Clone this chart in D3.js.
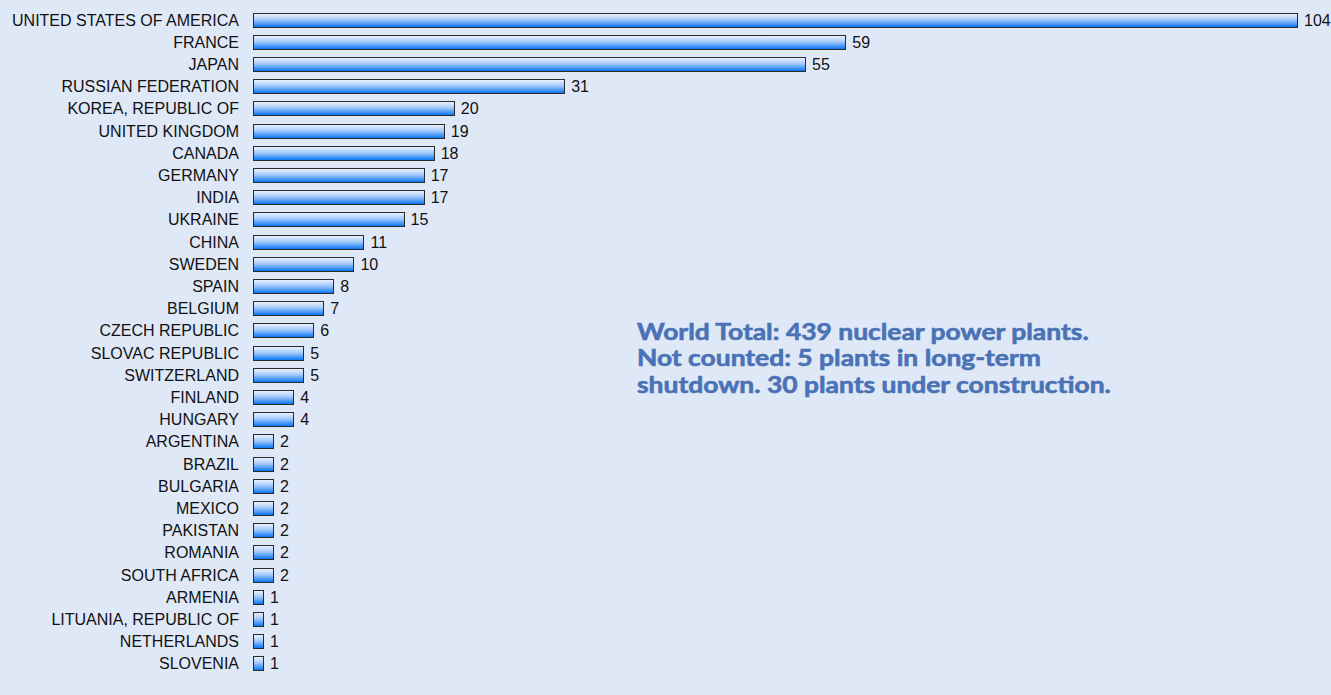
<!DOCTYPE html>
<html>
<head>
<meta charset="utf-8">
<script src="https://cdn.jsdelivr.net/npm/d3@7"></script>
<style>
  body { margin: 0; background: #dfe8f7; }
  svg { display: block; }
  .label { font-family: "Liberation Sans", Arial, sans-serif; font-size: 16px; fill: #111; }
  .note { font-family: Lato, "Open Sans", sans-serif; font-weight: 700; font-size: 22px; fill: #4a72b5; stroke: #4a72b5; stroke-width: 0.6px; }
</style>
</head>
<body>
<div id="chart"></div>
<script>
const countries = [
    "UNITED STATES OF AMERICA", "FRANCE", "JAPAN", "RUSSIAN FEDERATION", "KOREA, REPUBLIC OF",
    "UNITED KINGDOM", "CANADA", "GERMANY", "INDIA", "UKRAINE", "CHINA", "SWEDEN", "SPAIN",
    "BELGIUM", "CZECH REPUBLIC", "SLOVAC REPUBLIC", "SWITZERLAND", "FINLAND", "HUNGARY",
    "ARGENTINA", "BRAZIL", "BULGARIA", "MEXICO", "PAKISTAN", "ROMANIA", "SOUTH AFRICA",
    "ARMENIA", "LITUANIA, REPUBLIC OF", "NETHERLANDS", "SLOVENIA"
];
const plants = [104, 59, 55, 31, 20, 19, 18, 17, 17, 15, 11, 10, 8, 7, 6, 5, 5, 4, 4, 2, 2, 2, 2, 2, 2, 2, 1, 1, 1, 1];
const noteLines = [
    "World Total: 439 nuclear power plants.",
    "Not counted: 5 plants in long-term",
    "shutdown. 30 plants under construction."
];

const width = 1331, height = 695;
const svg = d3.select("#chart").append("svg").attr("width", width).attr("height", height);

// vertical gradient like the original bars: pale top, strong blue bottom
const grad = svg.append("defs").append("linearGradient")
    .attr("id", "barGrad").attr("x1", 0).attr("y1", 0).attr("x2", 0).attr("y2", 1);
grad.append("stop").attr("offset", "0%").attr("stop-color", "#eef4ff");
grad.append("stop").attr("offset", "45%").attr("stop-color", "#a3c9fa");
grad.append("stop").attr("offset", "100%").attr("stop-color", "#0070f5");

const x = d3.scaleLinear().domain([-0.2, 104]).range([251, 1297]);
const y = d3.scaleBand().domain(countries).range([9, 675]).paddingInner(0.32).paddingOuter(0.16);
const barH = 15;

const rows = svg.append("g").selectAll("g")
    .data(countries.map((c, i) => ({ country: c, value: plants[i] })))
    .join("g")
    .attr("transform", d => `translate(0,${Math.round(y(d.country) + y.bandwidth() / 2 - barH / 2)})`);

rows.append("rect")
    .attr("x", Math.round(x(0)) + 0.5)
    .attr("y", 0.5)
    .attr("width", d => Math.round(x(d.value) - x(0)))
    .attr("height", barH - 1)
    .attr("fill", "url(#barGrad)")
    .attr("stroke", "#2a2a2a")
    .attr("stroke-width", 1);

rows.append("text")
    .attr("class", "label")
    .attr("x", 239)
    .attr("y", barH / 2)
    .attr("dy", "0.36em")
    .attr("text-anchor", "end")
    .text(d => d.country);

rows.append("text")
    .attr("class", "label")
    .attr("x", d => x(d.value) + 7)
    .attr("y", barH / 2)
    .attr("dy", "0.36em")
    .text(d => d.value);

// annotation block, stretched sideways so the first line spans ~452px
const noteX = 637, noteWidth = 452;
const note = svg.append("g");
const noteText = note.selectAll("text")
    .data(noteLines)
    .join("text")
    .attr("class", "note")
    .attr("x", 0)
    .attr("y", (d, i) => 340 + i * 26.5)
    .text(d => d);
const stretch = noteWidth / noteText.node().getComputedTextLength();
note.attr("transform", `translate(${noteX},0) scale(${stretch},1)`);
</script>
</body>
</html>
